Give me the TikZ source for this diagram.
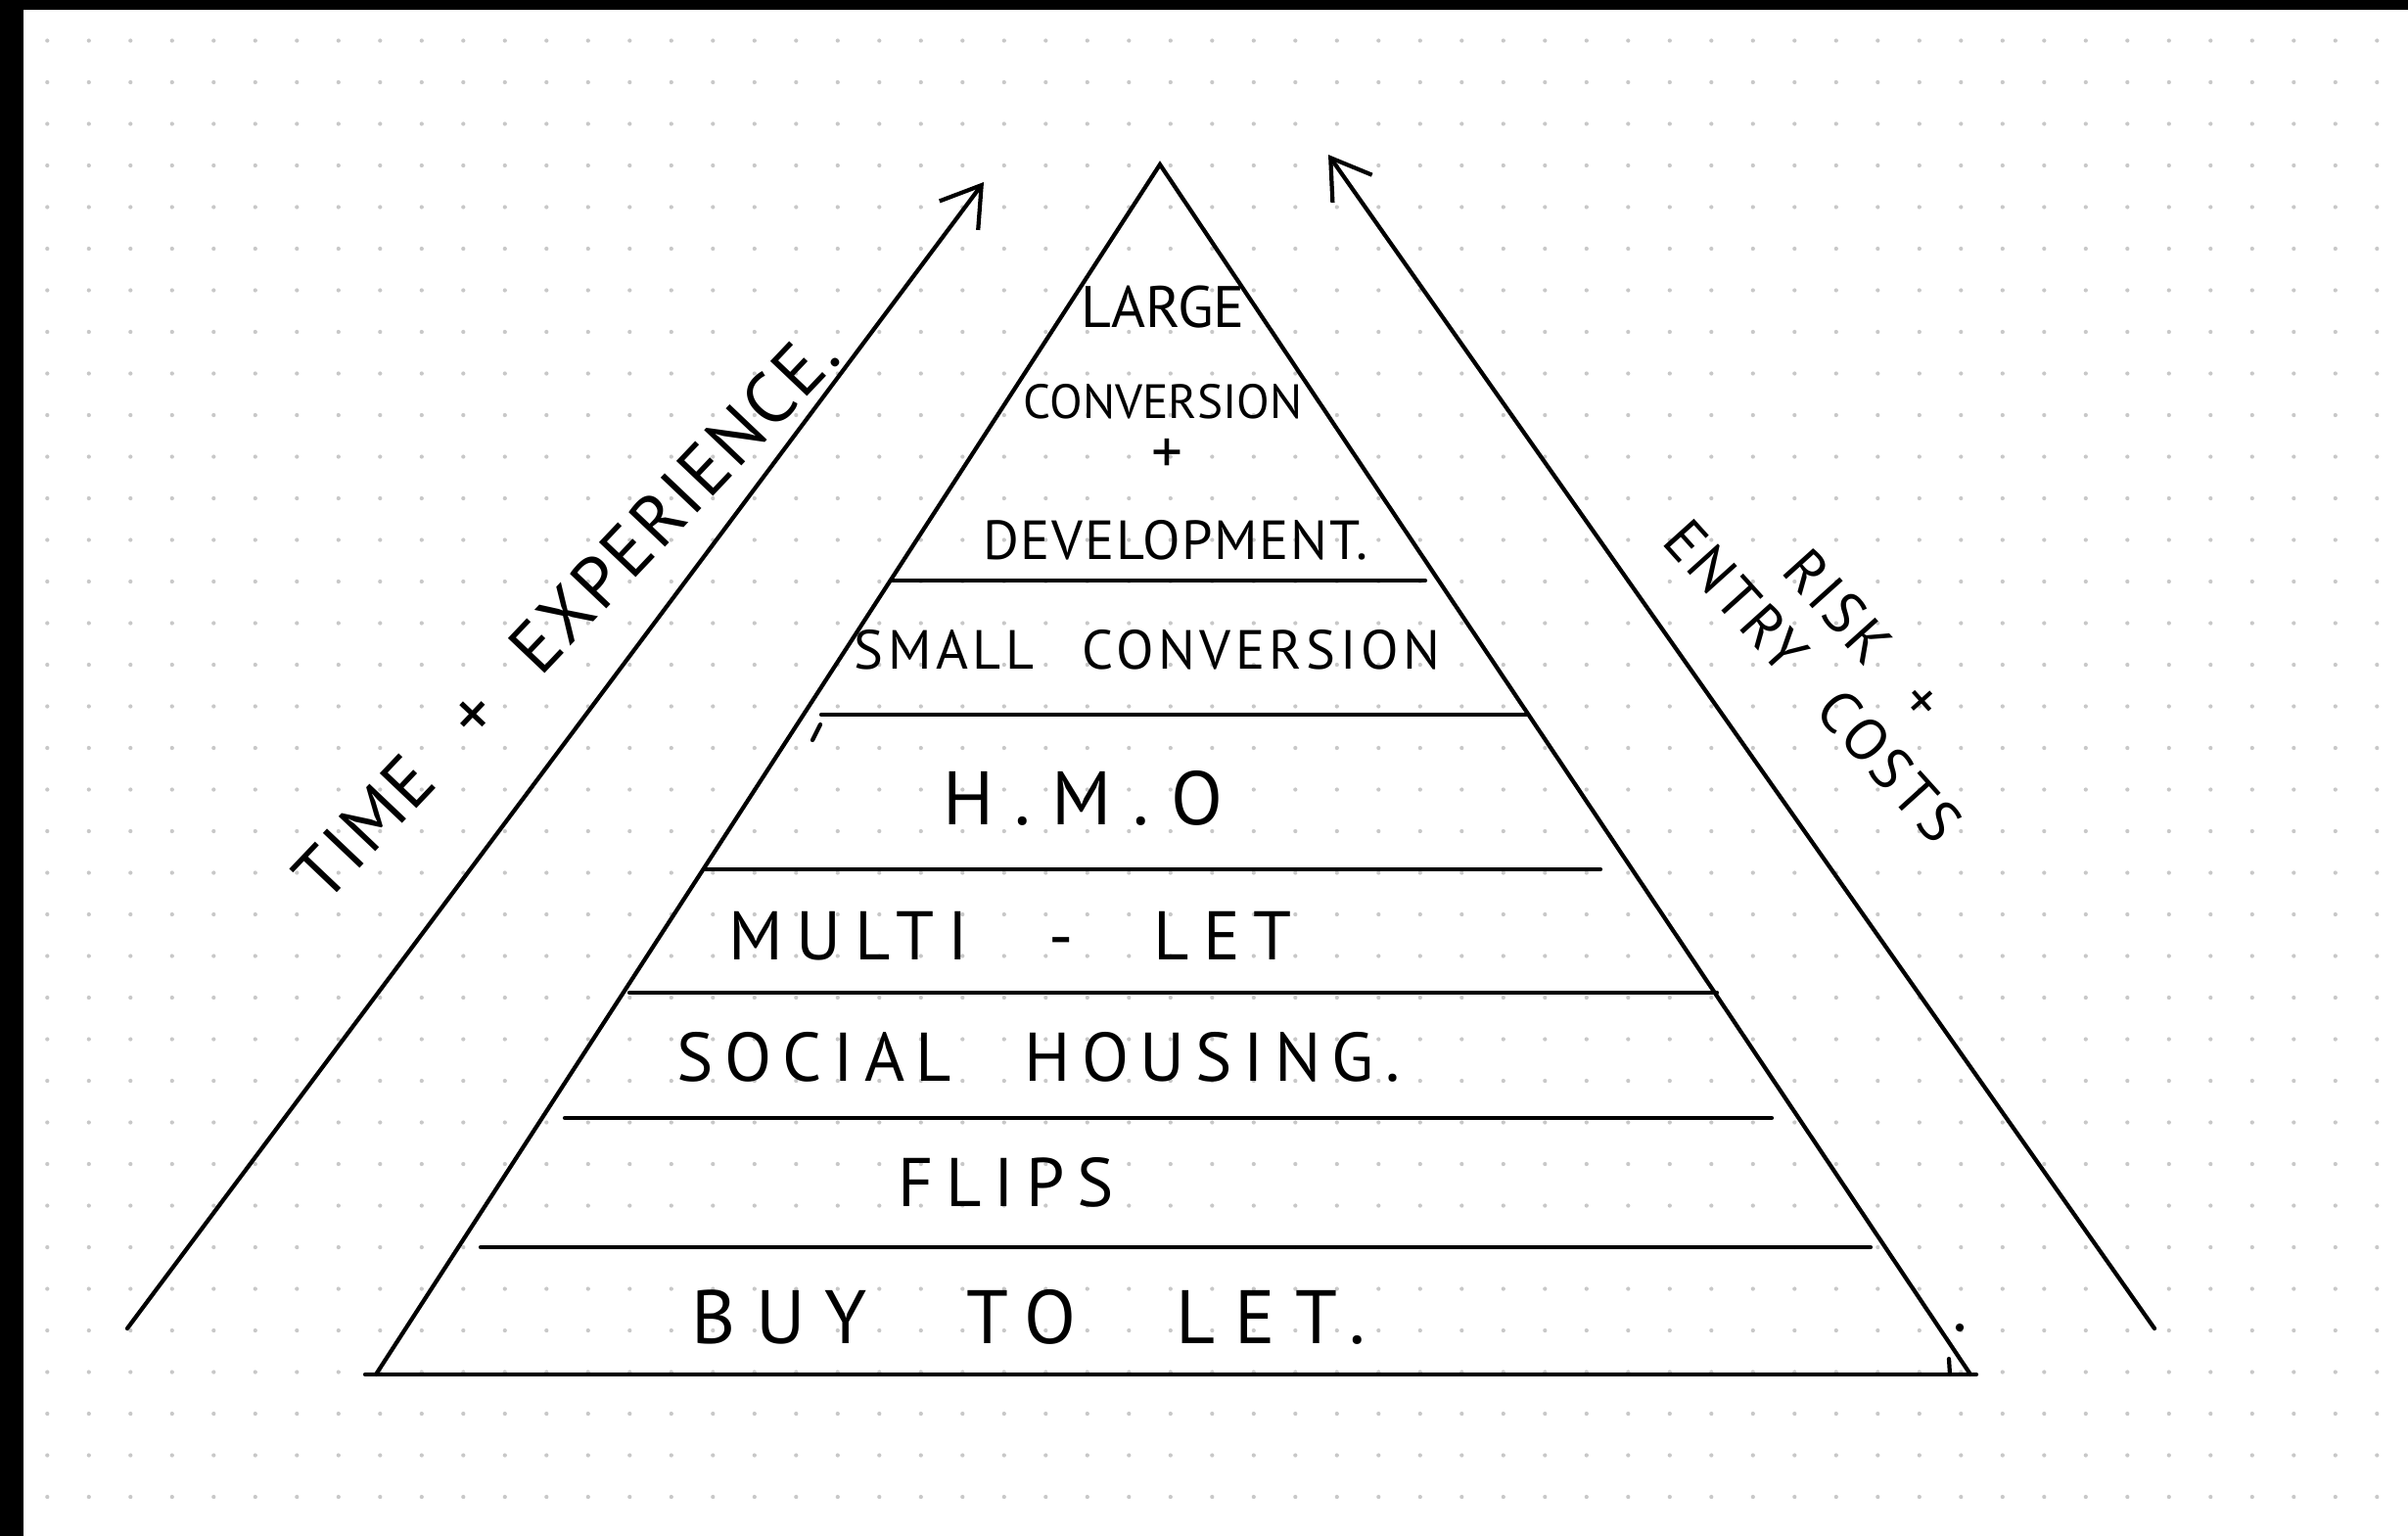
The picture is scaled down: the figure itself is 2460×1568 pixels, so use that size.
\documentclass[tikz,border=0pt]{standalone}
\usepackage{fontspec}
\newfontfamily\hand[WordSpace=2.5]{PT Sans}
\usetikzlibrary{arrows.meta}
\definecolor{dotgray}{RGB}{200,200,200}

\begin{document}
\begin{tikzpicture}[x=0.01cm,y=-0.01cm,>={Straight Barb[length=11pt,width=14pt]}]
  \tikzstyle{pen}=[line width=1.2pt,black,line cap=round]
  \tikzstyle{tier}=[inner sep=0pt,font=\hand\fontsize{18}{22}\selectfont]
  \useasboundingbox (0,0) rectangle (2460,1568);
  \fill[white] (-20,-20) rectangle (2480,1590);
  \fill[black] (-20,-20) rectangle (2480,10);
  \fill[black] (-20,-20) rectangle (24,1590);
  \foreach \i in {1,...,57}
    \foreach \j in {0,...,36}
      \fill[dotgray] (5.8+42.5*\i,41.5+42.5*\j) circle (0.6pt);

  \coordinate (apex) at (1185,168);
  \coordinate (bl) at (384,1404);
  \coordinate (br) at (2013,1404);
  \coordinate (b0) at (373,1404);
  \coordinate (b1) at (2019,1404);
  \draw[pen] (bl) -- (apex) -- (br);
  \draw[pen] (b0) -- (b1);
  \foreach \n/\y/\xa/\xb in {1/593/910/1456,2/730/839/1561,3/888/719/1635,4/1014/643/1754,5/1142/577/1810,6/1274/491/1911}{
    \coordinate (l\n) at (\xa,\y);
    \coordinate (r\n) at (\xb,\y);
    \draw[pen] (l\n) -- (r\n);
  }
  \draw[pen] (830,756) -- (838,740);
  \draw[pen] (1991,1388) -- (1992,1404);
  \fill (2002,1356) circle (1.2pt);

  \coordinate (ls) at (130,1357);
  \coordinate (le) at (1005,186);
  \coordinate (rs) at (2201,1357);
  \coordinate (re) at (1357,158);
  \draw[pen,->] (ls) -- (le);
  \draw[pen,->] (rs) -- (re);

  \node[tier,rotate=46.5,font=\hand\fontsize{21}{25}\selectfont\addfontfeature{LetterSpace=4}] (time) at (578,628) {TIME + EXPERIENCE.};
  \node[tier,rotate=-48,align=center,font=\hand\fontsize{17}{20}\selectfont\addfontfeature{LetterSpace=6}] (risk) at (1878,672) {RISK +\\ENTRY COSTS};

  \node[tier,font=\hand\fontsize{17}{20}\selectfont] (large) at (1188,314) {LARGE};
  \node[tier,font=\hand\fontsize{14}{18}\selectfont] (conv) at (1188,410) {CONVERSION};
  \node[tier,font=\hand\fontsize{18}{20}\selectfont] (plus) at (1192,466) {+};
  \node[tier,font=\hand\fontsize{16}{20}\selectfont\addfontfeature{LetterSpace=3}] (devel) at (1201,552) {DEVELOPMENT.};
  \node[tier,font=\hand\fontsize{16}{20}\selectfont\addfontfeature{LetterSpace=8}] (small) at (1172,664) {SMALL CONVERSION};
  \node[tier,font=\hand\fontsize{22}{26}\selectfont\addfontfeature{LetterSpace=28}] (hmo) at (1106,815) {H.M.O};
  \node[tier,font=\hand\fontsize{20}{24}\selectfont\addfontfeature{LetterSpace=20}] (multi) at (1032,956) {MULTI - LET};
  \node[tier,font=\hand\fontsize{20}{24}\selectfont\addfontfeature{LetterSpace=16}] (social) at (1061,1080) {SOCIAL HOUSING.};
  \node[tier,font=\hand\fontsize{20}{24}\selectfont\addfontfeature{LetterSpace=18}] (flips) at (1028,1208) {FLIPS};
  \node[tier,font=\hand\fontsize{22}{26}\selectfont\addfontfeature{LetterSpace=26}] (btl) at (1051,1345) {BUY TO LET.};
\end{tikzpicture}
\end{document}
